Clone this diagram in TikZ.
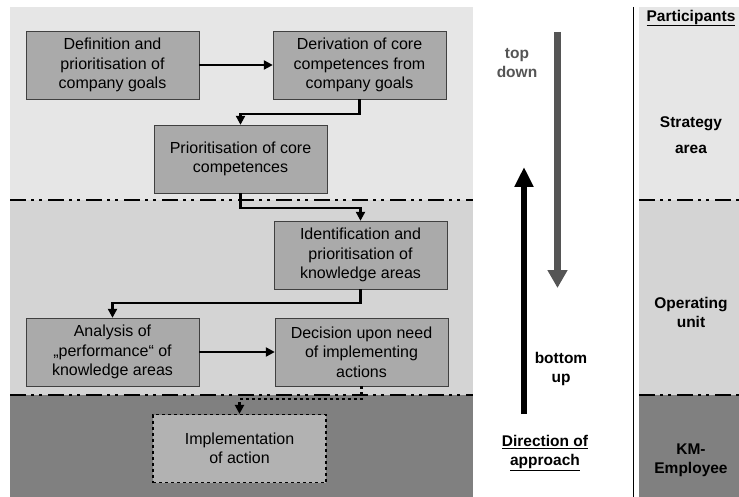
\documentclass[tikz,border=0pt]{standalone}
\usepackage{fontspec}
\setmainfont{Liberation Sans}
\usetikzlibrary{arrows.meta}
\definecolor{bandtop}{HTML}{E6E6E6}
\definecolor{bandmid}{HTML}{D4D4D4}
\definecolor{bandlow}{HTML}{808080}
\definecolor{boxfill}{HTML}{AAAAAA}
\definecolor{arrowgray}{HTML}{555555}
\tikzset{
  stepbox/.style={draw=black!75,fill=boxfill,minimum width=173pt,minimum height=68pt,
    align=center,inner sep=2pt,font=\fontsize{16}{19.5}\selectfont},
  flow/.style={line width=2.2pt,-{Triangle[length=9pt,width=9pt]}},
  divider/.style={line width=2.5pt,dash pattern=on 16pt off 5pt on 3pt off 5pt on 3pt off 6pt},
  label/.style={align=center,font=\fontsize{15.5}{19}\selectfont\bfseries},
}
\begin{document}
\begin{tikzpicture}[x=1pt,y=-1pt]
		\useasboundingbox (0,0) rectangle (739,497);
		% bands
		\fill[bandtop] (10,7) rectangle (473,200);
		\fill[bandmid] (10,200) rectangle (473,395);
		\fill[bandlow] (10,395) rectangle (473,497);
		\fill[bandtop] (639,7) rectangle (739,200);
		\fill[bandmid] (639,200) rectangle (739,395);
		\fill[bandlow] (639,395) rectangle (739,497);
		\foreach \y in {200,395}
		{\draw[divider] (10,\y) -- (473,\y);
		\draw[divider] (639,\y) -- (739,\y);}
		\draw[line width=0.8pt] (633,7) -- (633,497);
		% Process steps
		\node[stepbox] (goals) at (112.5,65) {Definition and\\prioritisation of\\company goals};
		\node[stepbox] (derive) at (359.5,65) {Derivation of core\\competences from\\company goals};
		\node[stepbox] (prio) at (240.5,159) {Prioritisation of core\\competences};
		\node[stepbox] (ident) at (360.5,255) {Identification and\\prioritisation of\\knowledge areas};
		\node[stepbox] (analysis) at (112.5,352) {Analysis of\\„performance“ of\\knowledge areas};
		\node[stepbox] (decision) at (361.5,352) {Decision upon need\\of implementing\\actions};
		\node[stepbox,draw=black,dashed,line width=1.2pt,fill=boxfill!90!white] (impl) at (239.5,448.5) {Implementation\\of action};
		% Connectors
		\draw[flow] (goals) -- (derive);
		\draw[flow] (derive.south) -- ++(0,15) -| (prio.north);
		\draw[flow] (prio.south) -- ++(0,15) -| (ident.north);
		\draw[flow] (ident.south) -- ++(0,14) -| (analysis.north);
		\draw[flow] (analysis) -- (decision);
		\draw[flow,dashed] (decision.south) -- ++(0,13) -| (impl.north);
		% Direction of approach
		\coordinate (tdtop) at (557.5,32);
		\coordinate (tdtip) at (557.5,288);
		\coordinate (bubase) at (524,414);
		\coordinate (butip) at (524,167);
		\draw[line width=7pt,arrowgray,-{Triangle[length=18pt,width=19pt]}] (tdtop) -- (tdtip);
		\draw[line width=6.5pt,black,-{Triangle[length=20pt,width=18pt]}] (bubase) -- (butip);
		\node[label,text=arrowgray] (topdown) at (517,63.5) {top\\down};
		\node[label] (bottomup) at (561,369) {bottom\\up};
		\node[label] (direction) at (545,453) {\underline{Direction of}\\\underline{approach}};
		% Participants
		\node[label] (participants) at (691,18) {\underline{Participants}};
		\node[label,font=\fontsize{15.5}{26}\selectfont\bfseries] (strategy) at (691,135) {Strategy\\area};
		\node[label] (operating) at (691,312.5) {Operating\\unit};
		\node[label] (kmemp) at (691,460) {KM-\\Employee};
		\end{tikzpicture}
\end{document}
